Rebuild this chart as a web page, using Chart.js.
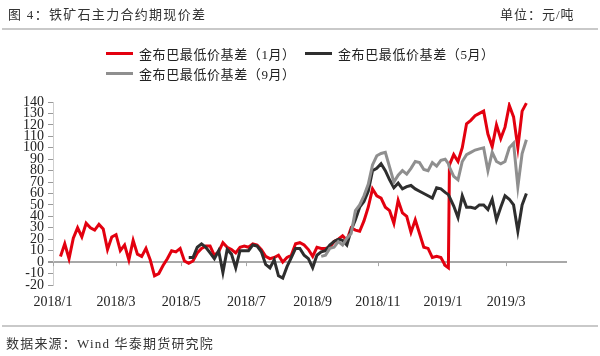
<!DOCTYPE html>
<html>
<head>
<meta charset="utf-8">
<script src="https://cdn.jsdelivr.net/npm/chart.js@4/dist/chart.umd.min.js"></script>
<style>
  html, body { margin: 0; padding: 0; background: #fff; }
  #wrap { position: relative; width: 600px; height: 356px; overflow: hidden; background: #fff; }
  canvas { position: absolute; left: 0; top: 0; }
  .txt { position: absolute; white-space: nowrap; color: #333;
         font-family: "Liberation Serif", "Noto Sans CJK SC", serif; }
  .title { left: 8px; top: 6px; font-size: 13px; letter-spacing: 1.3px; line-height: 18px; }
  .unit { left: 500px; top: 6px; font-size: 13px; letter-spacing: 1px; line-height: 18px; }
  .rule { position: absolute; left: 2px; width: 596px; height: 2px; background: #c9c9c9; }
  .foot { left: 6px; top: 335px; font-size: 13px; letter-spacing: 1.2px; line-height: 18px; }
  .leg { position: absolute; display: flex; align-items: center; height: 18px;
         font-family: "Liberation Serif", "Noto Sans CJK SC", serif; font-size: 13px;
         letter-spacing: 0.6px; color: #222; white-space: nowrap; }
  .leg i { display: inline-block; width: 27px; height: 3px; margin-right: 6px; }
</style>
</head>
<body>
<div id="wrap">
  <canvas id="c" width="600" height="356"></canvas>
  <div class="txt title">图 4：铁矿石主力合约期现价差</div>
  <div class="txt unit">单位：元/吨</div>
  <div class="rule" style="top:28px"></div>
  <div id="legend"></div>
  <div class="rule" style="top:325px"></div>
  <div class="txt foot">数据来源：Wind 华泰期货研究院</div>
</div>
<script>
// ---- data ----
const seriesNames = ['金布巴最低价基差（1月）', '金布巴最低价基差（5月）', '金布巴最低价基差（9月）'];

const dates = [
  '2018-01-08','2018-01-12','2018-01-16','2018-01-20','2018-01-24','2018-01-28','2018-02-01','2018-02-05','2018-02-09','2018-02-13',
  '2018-02-17','2018-02-21','2018-02-25','2018-03-01','2018-03-05','2018-03-09','2018-03-13','2018-03-17','2018-03-21','2018-03-25',
  '2018-03-29','2018-04-02','2018-04-06','2018-04-10','2018-04-14','2018-04-18','2018-04-22','2018-04-26','2018-04-30','2018-05-04',
  '2018-05-08','2018-05-12','2018-05-16','2018-05-20','2018-05-24','2018-05-28','2018-06-01','2018-06-05','2018-06-09','2018-06-13',
  '2018-06-17','2018-06-21','2018-06-25','2018-06-29','2018-07-03','2018-07-07','2018-07-11','2018-07-15','2018-07-19','2018-07-23',
  '2018-07-27','2018-07-31','2018-08-04','2018-08-08','2018-08-12','2018-08-16','2018-08-20','2018-08-24','2018-08-28','2018-09-01',
  '2018-09-05','2018-09-09','2018-09-13','2018-09-17','2018-09-21','2018-09-25','2018-09-29','2018-10-03','2018-10-07','2018-10-11',
  '2018-10-15','2018-10-19','2018-10-23','2018-10-27','2018-10-31','2018-11-04','2018-11-08','2018-11-12','2018-11-16','2018-11-20',
  '2018-11-24','2018-11-28','2018-12-02','2018-12-06','2018-12-10','2018-12-14','2018-12-18','2018-12-22','2018-12-26','2018-12-30',
  '2019-01-03','2019-01-06','2019-01-07','2019-01-11','2019-01-15','2019-01-19','2019-01-23','2019-01-27','2019-01-31','2019-02-04',
  '2019-02-08','2019-02-12','2019-02-16','2019-02-20','2019-02-24','2019-02-28','2019-03-04','2019-03-08','2019-03-12','2019-03-16',
  '2019-03-20'
];

const basisJan = [
  5, 16, 3, 21, 30, 22, 34, 30, 28, 33,
  29, 11, 22, 24, 10, 15, 2, 19, 7, 5,
  12, 2, -12, -10, -3, 3, 10, 9, 12, 1,
  -1, 1, 8, 12, 14, 14, 6, 9, 17, 13,
  11, 8, 13, 14, 13, 16, 15, 11, 5, 3,
  4, 6, 0, 4, 6, 16, 17, 15, 11, 5,
  13, 12, 12, 13, 18, 20, 23, 19, 30, 28,
  27, 36, 48, 64, 58, 56, 48, 45, 34, 54,
  43, 40, 26, 37, 25, 13, 12, 4, 5, 4,
  -3, -5, 85, 94, 88, 100, 121, 124, 128, 130,
  132, 112, 101, 120, 108, 118, 137, 127, 100, 132,
  139
];

const basisMay = [
  null, null, null, null, null, null, null, null, null, null,
  null, null, null, null, null, null, null, null, null, null,
  null, null, null, null, null, null, null, null, null, null,
  4, 4, 13, 16, 13, 8, 3, 10, -9, 11,
  7, -5, 10, 10, 10, 15, 14, 9, -2, -5,
  2, -12, -14, -4, 4, 12, 12, 6, 3, -5,
  6, 9, 10, 15, 18, 20, 19, 15, 28, 37,
  48, 53, 62, 80, 82, 86, 80, 72, 65, 69,
  64, 66, 67, 64, 62, 60, 58, 56, 65, 64,
  61, 59, 57, 49, 39, 58, 48, 48, 47, 50,
  50, 46, 55, 37, 48, 58, 55, 50, 27, 50,
  60
];

const basisSep = [
  null, null, null, null, null, null, null, null, null, null,
  null, null, null, null, null, null, null, null, null, null,
  null, null, null, null, null, null, null, null, null, null,
  null, null, null, null, null, null, null, null, null, null,
  null, null, null, null, null, null, null, null, null, null,
  null, null, null, null, null, null, null, null, null, null,
  null, 5, 6, 12, 13, 18, 15, 21, 25, 45,
  50, 58, 68, 85, 93, 95, 96, 83, 70, 76,
  80, 77, 82, 88, 87, 81, 80, 87, 84, 89,
  90, 86, 83, 75, 72, 88, 94, 96, 98, 99,
  100, 80, 96, 88, 86, 88, 100, 104, 66, 95,
  107
];

const xTickDates  = ['2018-01-01','2018-03-01','2018-05-01','2018-07-01','2018-09-01','2018-11-01','2019-01-01','2019-03-01'];
const xTickLabels = ['2018/1','2018/3','2018/5','2018/7','2018/9','2018/11','2019/1','2019/3'];
const xAxisEnd = '2019-04-27';
const yMin = -20, yMax = 140, yStep = 10;

// ---- helpers ----
const origin = Date.parse('2018-01-01T00:00:00Z');
const dayNum = s => (Date.parse(s + 'T00:00:00Z') - origin) / 86400000;
const toPoints = vals => dates.map((d, i) => ({ x: dayNum(d), y: vals[i] }));
const tickDays = xTickDates.map(dayNum);

const colors = ['#e3000f', '#2e2e2e', '#8f8f8f'];
const seriesValues = [basisJan, basisMay, basisSep];

// legend (HTML)
const legendPos = [[106, 44], [305, 44], [106, 64]];
const legendEl = document.getElementById('legend');
seriesNames.forEach((n, i) => {
  const d = document.createElement('div');
  d.className = 'leg';
  d.style.left = legendPos[i][0] + 'px';
  d.style.top = legendPos[i][1] + 'px';
  d.innerHTML = '<i style="background:' + colors[i] + '"></i><span>' + n + '</span>';
  legendEl.appendChild(d);
});

const zeroTicks = {
  id: 'zeroTicks',
  beforeDatasetsDraw(chart) {
    const { ctx, scales: { x, y } } = chart;
    const y0 = y.getPixelForValue(0);
    ctx.save();
    ctx.strokeStyle = '#a6a6a6';
    ctx.lineWidth = 1;
    x.ticks.forEach(t => {
      const px = Math.round(x.getPixelForValue(t.value)) + 0.5;
      ctx.beginPath();
      ctx.moveTo(px, y0);
      ctx.lineTo(px, y0 + 4);
      ctx.stroke();
    });
    ctx.restore();
  }
};

new Chart(document.getElementById('c'), {
  type: 'line',
  data: {
    datasets: seriesValues.map((v, i) => ({
      label: seriesNames[i],
      data: toPoints(v),
      borderColor: colors[i],
      backgroundColor: colors[i],
      borderWidth: 3,
      pointRadius: 0,
      tension: 0,
      spanGaps: false,
      order: 3 - i
    }))
  },
  options: {
    responsive: false,
    animation: false,
    devicePixelRatio: 1,
    layout: { padding: { top: 102, right: 33, bottom: 41, left: 0 } },
    plugins: { legend: { display: false }, title: { display: false }, tooltip: { enabled: false } },
    scales: {
      x: {
        type: 'linear',
        min: 0,
        max: dayNum(xAxisEnd),
        afterBuildTicks: s => { s.ticks = tickDays.map(v => ({ value: v })); },
        afterFit: s => { s.height = 30; },
        ticks: {
          autoSkip: false,
          maxRotation: 0,
          padding: 9,
          color: '#222',
          font: { family: 'Liberation Serif', size: 14 },
          callback: (v) => xTickLabels[tickDays.indexOf(v)]
        },
        grid: { display: false, drawTicks: false },
        border: { display: false }
      },
      y: {
        min: yMin,
        max: yMax,
        afterFit: s => { s.width = 53; },
        ticks: {
          stepSize: yStep,
          autoSkip: false,
          padding: 4,
          color: '#222',
          font: { family: 'Liberation Serif', size: 14, lineHeight: 1 }
        },
        grid: {
          color: c => (c.tick && c.tick.value === 0) ? '#a8a8a8' : 'rgba(0,0,0,0)',
          lineWidth: c => (c.tick && c.tick.value === 0) ? 2 : 1,
          tickColor: '#9a9a9a',
          tickLength: 5,
          drawTicks: true
        },
        border: { display: true, color: '#cfcfcf', width: 1 }
      }
    }
  },
  plugins: [zeroTicks]
});
</script>
</body>
</html>
